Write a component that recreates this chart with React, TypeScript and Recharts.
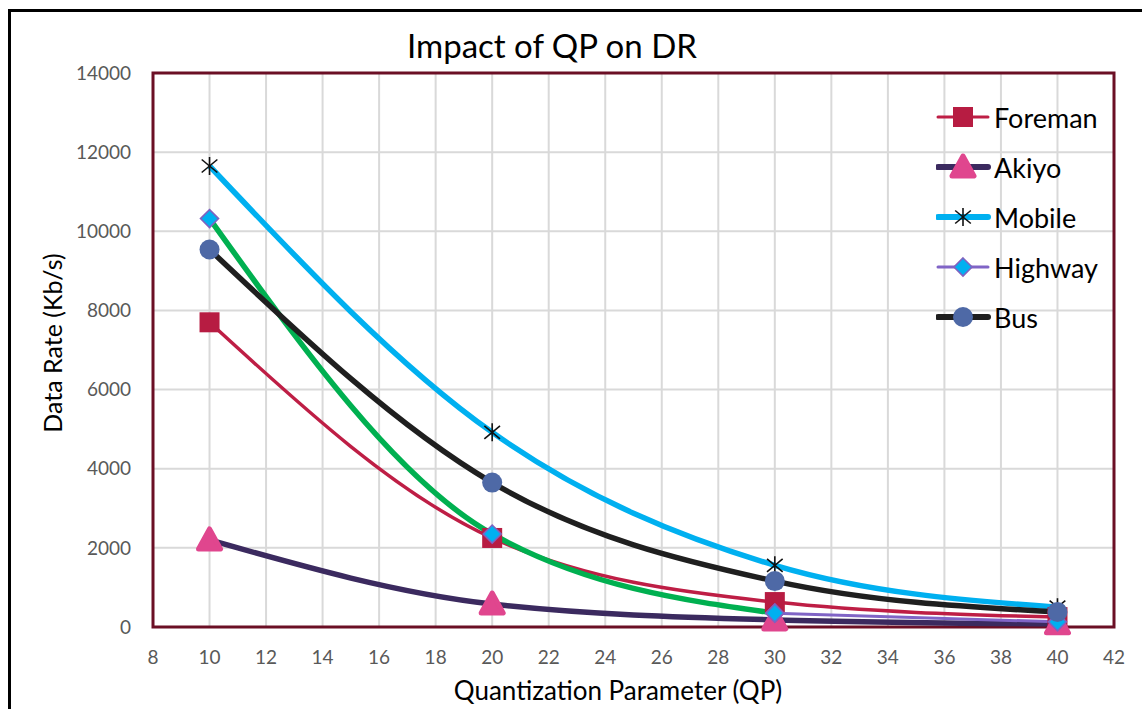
import React from "react";
import { CartesianGrid, Legend, Line, LineChart, ReferenceArea, XAxis, YAxis } from "recharts";

const qp = [10, 20, 30, 40];
const foreman = [7700, 2250, 630, 250];
const akiyo = [2200, 580, 180, 80];
const mobile = [11650, 4920, 1560, 500];
const highway = [10320, 2350, 350, 130];
const bus = [9540, 3650, 1160, 380];

const xTicks = [8, 10, 12, 14, 16, 18, 20, 22, 24, 26, 28, 30, 32, 34, 36, 38, 40, 42];
const yTicks = [0, 2000, 4000, 6000, 8000, 10000, 12000, 14000];

// highway is drawn green up to QP 30, then the last segment is purple
const rows = qp.map((q, i) => ({
  qp: q,
  foreman: foreman[i],
  akiyo: akiyo[i],
  mobile: mobile[i],
  highway: i < 3 ? highway[i] : null,
  highwayTail: i >= 2 ? highway[i] : null,
  bus: bus[i]
}));

const FONT = "Lato, 'Open Sans', sans-serif";

function Square({ cx, cy }: { cx: number; cy: number }) {
  return <rect x={cx - 10} y={cy - 10} width={20} height={20} fill="#b71c42" />;
}

function Triangle({ cx, cy }: { cx: number; cy: number }) {
  return (
    <polygon
      points={`${cx},${cy - 11} ${cx + 11},${cy + 9} ${cx - 11},${cy + 9}`}
      fill="#e0468e"
      stroke="#e0468e"
      strokeWidth={5}
      strokeLinejoin="round"
    />
  );
}

function Star({ cx, cy }: { cx: number; cy: number }) {
  const r = 9;
  const dx = r * 0.87;
  const dy = r * 0.5;
  return (
    <g stroke="#111" strokeWidth={1.6}>
      <line x1={cx} y1={cy - r} x2={cx} y2={cy + r} />
      <line x1={cx - dx} y1={cy - dy - 2} x2={cx + dx} y2={cy + dy + 2} />
      <line x1={cx - dx} y1={cy + dy + 2} x2={cx + dx} y2={cy - dy - 2} />
    </g>
  );
}

function Diamond({ cx, cy }: { cx: number; cy: number }) {
  return (
    <polygon
      points={`${cx},${cy - 9} ${cx + 9},${cy} ${cx},${cy + 9} ${cx - 9},${cy}`}
      fill="#00b0f0"
      stroke="#7f62c0"
      strokeWidth={1.6}
    />
  );
}

function Circle({ cx, cy }: { cx: number; cy: number }) {
  return <circle cx={cx} cy={cy} r={10} fill="#4e69a6" />;
}

const legendItems = [
  { name: "Foreman", color: "#be1e45", width: 3, Marker: Square },
  { name: "Akiyo", color: "#3b2a5f", width: 6, Marker: Triangle },
  { name: "Mobile", color: "#00b0f0", width: 6, Marker: Star },
  { name: "Highway", color: "#8064c6", width: 3, Marker: Diamond },
  { name: "Bus", color: "#1f1f1f", width: 6, Marker: Circle }
];

function dotOf(Marker: any) {
  return (props: any) => {
    if (props.cx == null || props.cy == null || props.value == null) return <g key={props.key} />;
    return (
      <g key={`${props.dataKey}-${props.index}`}>
        <Marker cx={props.cx} cy={props.cy} />
      </g>
    );
  };
}

function LegendBox() {
  return (
    <div style={{ fontFamily: FONT }}>
      {legendItems.map(({ name, color, width, Marker }) => (
        <div key={name} style={{ display: "flex", alignItems: "center", height: 50 }}>
          <svg width={56} height={36}>
            <line x1={2} y1={18} x2={52} y2={18} stroke={color} strokeWidth={width} strokeLinecap="round" />
            <Marker cx={27} cy={18} />
          </svg>
          <span style={{ fontSize: 27, color: "#000", marginLeft: 2 }}>{name}</span>
        </div>
      ))}
    </div>
  );
}

export default function App() {
  return (
    <div style={{ position: "absolute", left: 0, top: 0, width: 1142, height: 709, overflow: "hidden", background: "#fff" }}>
      <div
        style={{
          position: "absolute",
          left: 8,
          top: 9,
          width: 1300,
          height: 900,
          borderLeft: "3px solid #000",
          borderTop: "3px solid #000"
        }}
      />
      <LineChart
        width={1142}
        height={709}
        data={rows}
        margin={{ top: 73, right: 28, bottom: 22, left: 0 }}
        style={{ position: "absolute", left: 0, top: 0 }}
      >
        <CartesianGrid stroke="#d9d9d9" strokeWidth={2} />
        <ReferenceArea x1={8} x2={42} y1={0} y2={14000} fill="none" stroke="#6b0f25" strokeWidth={3} ifOverflow="visible" />
        <XAxis
          type="number"
          dataKey="qp"
          domain={[8, 42]}
          ticks={xTicks}
          interval={0}
          axisLine={false}
          tickLine={false}
          height={60}
          tickMargin={18}
          tick={{ fill: "#595959", fontSize: 19, fontFamily: FONT }}
        />
        <YAxis
          type="number"
          domain={[0, 14000]}
          ticks={yTicks}
          interval={0}
          axisLine={false}
          tickLine={false}
          width={153}
          tickMargin={16}
          tick={{ fill: "#595959", fontSize: 19, fontFamily: FONT }}
        />
        <Legend
          layout="horizontal"
          verticalAlign="middle"
          align="center"
          wrapperStyle={{ position: "absolute", left: 936, top: 92, width: 205 }}
          content={() => <LegendBox />}
        />
        <Line type="monotone" dataKey="foreman" stroke="#be1e45" strokeWidth={3.5} dot={dotOf(Square)} activeDot={false} isAnimationActive={false} />
        <Line type="monotone" dataKey="akiyo" stroke="#3b2a5f" strokeWidth={5.5} dot={dotOf(Triangle)} activeDot={false} isAnimationActive={false} />
        <Line type="monotone" dataKey="mobile" stroke="#00b0f0" strokeWidth={5.5} dot={dotOf(Star)} activeDot={false} isAnimationActive={false} />
        <Line type="monotone" dataKey="highway" stroke="#00b050" strokeWidth={5.5} dot={dotOf(Diamond)} activeDot={false} isAnimationActive={false} />
        <Line type="monotone" dataKey="highwayTail" stroke="#8064c6" strokeWidth={3} dot={dotOf(Diamond)} activeDot={false} isAnimationActive={false} />
        <Line type="monotone" dataKey="bus" stroke="#1f1f1f" strokeWidth={5.5} dot={dotOf(Circle)} activeDot={false} isAnimationActive={false} />
      </LineChart>
      <div
        style={{
          position: "absolute",
          left: 552,
          top: 45,
          transform: "translate(-50%, -50%)",
          fontFamily: FONT,
          fontSize: 33,
          color: "#000",
          whiteSpace: "nowrap"
        }}
      >
        Impact of QP on DR
      </div>
      <div
        style={{
          position: "absolute",
          left: 52,
          top: 343,
          transform: "translate(-50%, -50%) rotate(-90deg)",
          fontFamily: FONT,
          fontSize: 25,
          color: "#000",
          whiteSpace: "nowrap"
        }}
      >
        Data Rate (Kb/s)
      </div>
      <div
        style={{
          position: "absolute",
          left: 618,
          top: 690,
          transform: "translate(-50%, -50%)",
          fontFamily: FONT,
          fontSize: 26,
          color: "#000",
          whiteSpace: "nowrap"
        }}
      >
        Quantization Parameter (QP)
      </div>
    </div>
  );
}
